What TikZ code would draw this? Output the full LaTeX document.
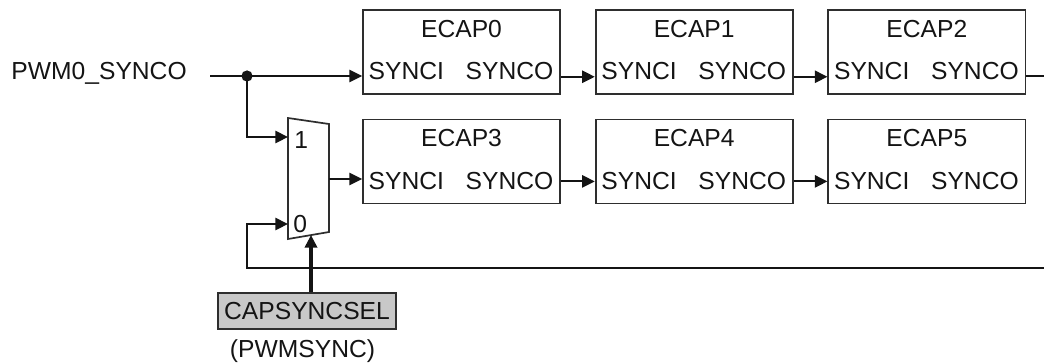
\documentclass[tikz,border=0pt]{standalone}
\usepackage{fontspec}
\setmainfont{Liberation Sans}
\usetikzlibrary{arrows.meta,positioning}
\definecolor{wireblack}{HTML}{141414}
\definecolor{boxline}{HTML}{2E2E2E}
\definecolor{selgray}{HTML}{C8C8C8}
\tikzset{
  ecapbox/.style={
    rectangle, draw=boxline, line width=0.7pt,
    minimum width=80.8pt, minimum height=34.4pt, inner sep=0pt
  },
  pinlabel/.style={inner sep=0pt, font=\fontsize{10.1}{12}\selectfont, text=wireblack},
  wire/.style={line width=0.85pt, color=wireblack},
  wirearrow/.style={wire, -{Triangle[length=5.2pt,width=5pt]}},
  selbox/.style={
    rectangle, draw=boxline, line width=0.7pt, fill=selgray,
    minimum width=73pt, minimum height=14.8pt, inner sep=0pt,
    font=\fontsize{10.1}{12}\selectfont, text=wireblack
  },
}
\begin{document}
\begin{tikzpicture}[x=0.41pt, y=0.41pt]
  \useasboundingbox (0,0) rectangle (1044,362);

  % capture units
  \node[ecapbox] (ecap0) at (461.5,310) {};
  \node[ecapbox, right=13.9pt of ecap0] (ecap1) {};
  \node[ecapbox, right=13.9pt of ecap1] (ecap2) {};
  \node[ecapbox, below=9.8pt of ecap0] (ecap3) {};
  \node[ecapbox, right=13.9pt of ecap3] (ecap4) {};
  \node[ecapbox, right=13.9pt of ecap4] (ecap5) {};
  \foreach \i in {0,...,5} {
    \node[pinlabel, anchor=base] (ecap\i title) at ([yshift=-11.5pt]ecap\i.north) {ECAP\i};
    \node[pinlabel, anchor=base west] (ecap\i in) at ([shift={(2.5pt,6.2pt)}]ecap\i.south west) {SYNCI};
    \node[pinlabel, anchor=base east] (ecap\i out) at ([shift={(-2.9pt,6.2pt)}]ecap\i.south east) {SYNCO};
  }
  \foreach \a/\b/\h in {0/1/7.4pt,1/2/7.4pt,3/4/9.4pt,4/5/9.4pt}
    \draw[wirearrow] ([yshift=\h]ecap\a.south east) -- ([yshift=\h]ecap\b.south west);

  % sync input
  \node[pinlabel, anchor=base west] (pwm) at (11,283) {PWM0\_SYNCO};
  \coordinate (split) at (247,286);
  \draw[wire] ([xshift=9.4pt]pwm.east |- split) -- (split);
  \draw[wirearrow] (split) -- (split -| ecap0.west);
  \fill[wireblack] (split) circle (2.3pt);
  \coordinate (sync out) at (1044,286);
  \draw[wire, line width=1.1pt] (ecap2.east |- split) -- (sync out);

  % mux
  \coordinate (mux in1) at (288,225);
  \coordinate (mux in0) at (288,138);
  \coordinate (mux out) at (329,183);
  \coordinate (mux sel) at (311,127);
  \draw[boxline, line width=0.7pt] (288,244) -- (329,238) -- (329,130) -- (288,123) -- cycle;
  \node[pinlabel, anchor=base west] (mux one) at (294,214) {1};
  \node[pinlabel, anchor=base west] (mux zero) at (293,130) {0};
  \draw[wirearrow] (split) |- (mux in1);
  \draw[wirearrow] (mux out) -- (mux out -| ecap3.west);
  \coordinate (fb end) at (1044,94);
  \draw[wirearrow] (fb end) -| (split |- mux in0) -- (mux in0);

  % select
  \node[selbox] (capsel) at (307,51) {CAPSYNCSEL};
  \node[pinlabel, anchor=base] (pwmsync) at (302.5,5) {(PWMSYNC)};
  \draw[wirearrow, line width=1.3pt] (mux sel |- capsel.north) -- (mux sel);
\end{tikzpicture}
\end{document}
